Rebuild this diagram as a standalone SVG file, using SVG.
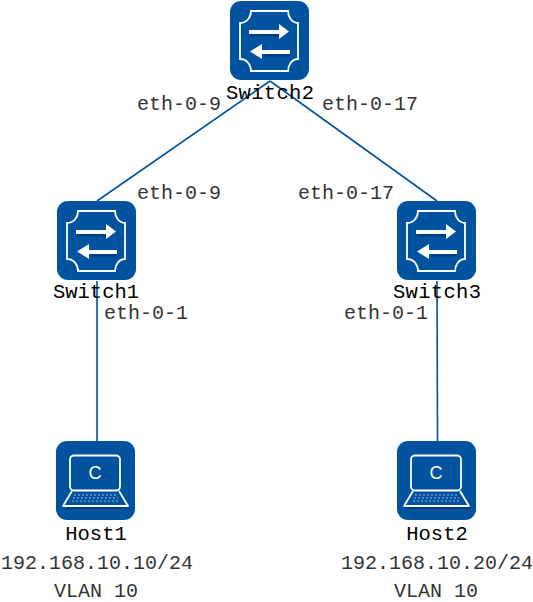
<svg xmlns="http://www.w3.org/2000/svg" width="533" height="602" viewBox="0 0 533 602">
<style>
.bg{fill:#01539f}
.o{fill:none;stroke:#fff;stroke-width:1.8}
.w{fill:#fff}
.s{fill:#013d78}
.c{fill:none;stroke:#01539f;stroke-width:1.6}
text{font-family:"Liberation Mono",monospace;font-size:20px;text-anchor:middle}
.n{fill:#000;font-size:20.5px}
.l{fill:#333}
.h{font-family:"Liberation Sans",sans-serif;font-size:18px;fill:#fff}
</style>
<defs>
<g id="sw">
<rect width="79" height="79" rx="11" class="bg"/>
<path class="o" d="M21 10H58C58 16 62 22 68 22V58C62 58 58 64 58 70H21C21 64 17 58 10 58V22C17 22 21 16 21 10Z"/>
<rect x="20" y="33" width="34" height="2.500" class="s"/>
<rect x="35" y="53" width="25" height="2.500" class="s"/>
<path class="w" d="M19 29H49V23L59 30.500L49 38V33H19Z"/>
<path class="w" d="M60 49H32V43L20 50.500L32 58V53H60Z"/>
</g>
<g id="pc">
<rect width="79" height="79" rx="11" class="bg"/>
<rect x="14" y="14.500" width="50" height="35" rx="4" class="o"/>
<path class="o" d="M16 50L7 65H72L63 50" stroke-linejoin="round"/>
<path d="M10 67H74" stroke="#013d78" stroke-width="2"/>
<path d="M18 54H61M17 57H62M16 60H63" stroke="#9fc0e0" stroke-width="1" stroke-dasharray="2 2"/>
</g>
</defs>
<g id="connectors">
<path class="c" d="M270 81L97 201"/>
<path class="c" d="M270 81L437 201"/>
<path class="c" d="M97 281V441"/>
<path class="c" d="M437 281L437.500 441"/>
</g>
<g id="Switch2"><use href="#sw" x="230" y="1"/><text class="n" x="270" y="99" textLength="88">Switch2</text></g>
<g id="Switch1"><use href="#sw" x="57" y="201"/><text class="n" x="96" y="298" textLength="86">Switch1</text></g>
<g id="Switch3"><use href="#sw" x="397" y="201"/><text class="n" x="437" y="298" textLength="88">Switch3</text></g>
<g id="Host1"><use href="#pc" x="56" y="441"/><text class="h" x="95" y="479">C</text><text class="n" x="96" y="540">Host1</text><text class="l" x="97" y="569">192.168.10.10/24</text><text class="l" x="96" y="597">VLAN 10</text></g>
<g id="Host2"><use href="#pc" x="397" y="441"/><text class="h" x="436" y="479">C</text><text class="n" x="437" y="540">Host2</text><text class="l" x="437" y="569">192.168.10.20/24</text><text class="l" x="436" y="597">VLAN 10</text></g>
<g id="labels">
<text class="l" x="179" y="110">eth-0-9</text>
<text class="l" x="370" y="110">eth-0-17</text>
<text class="l" x="179" y="199">eth-0-9</text>
<text class="l" x="346" y="199">eth-0-17</text>
<text class="l" x="146" y="319">eth-0-1</text>
<text class="l" x="386" y="319">eth-0-1</text>
</g>
</svg>
